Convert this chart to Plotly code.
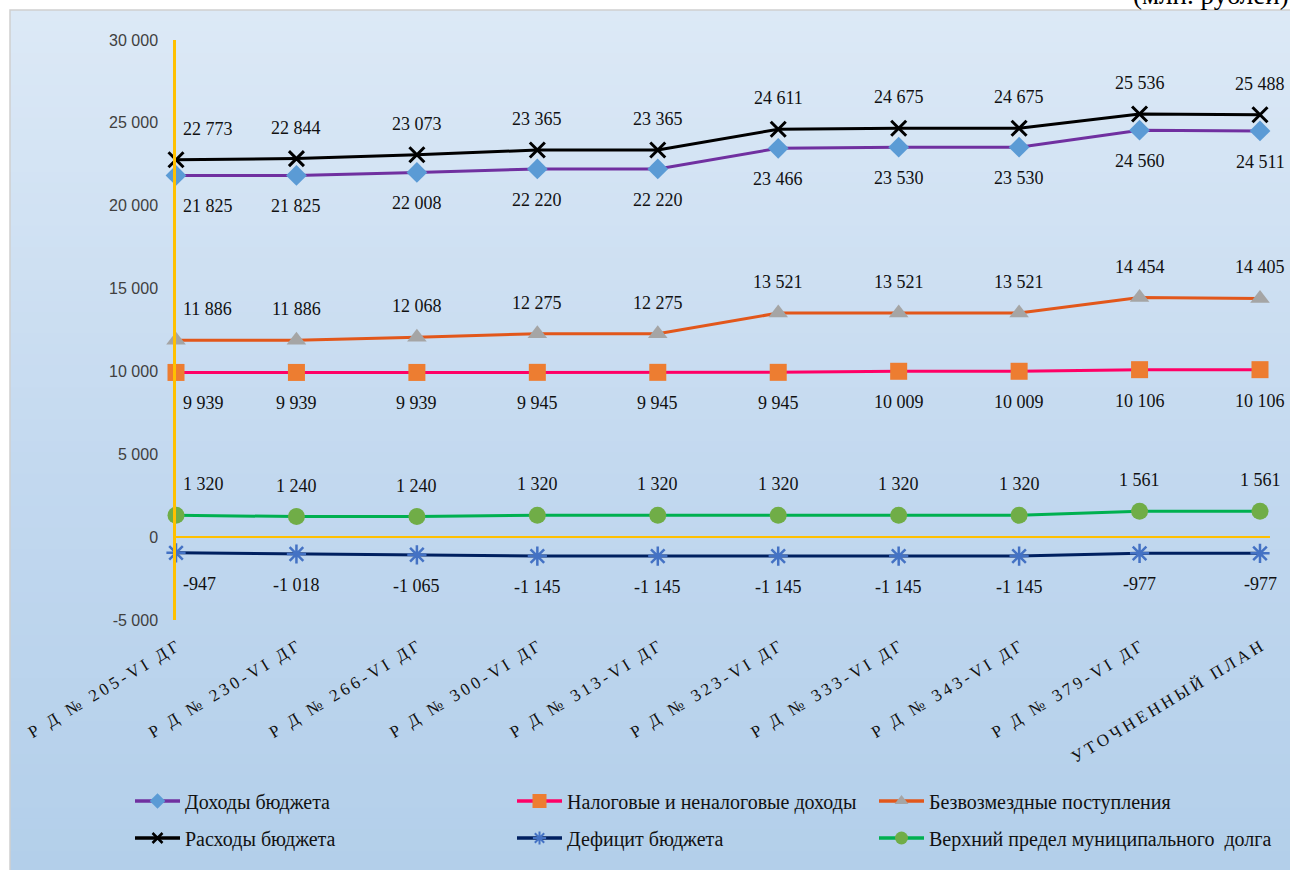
import plotly.graph_objects as go

categories = ["Р Д № 205-VI ДГ", "Р Д № 230-VI ДГ", "Р Д № 266-VI ДГ", "Р Д № 300-VI ДГ",
              "Р Д № 313-VI ДГ", "Р Д № 323-VI ДГ", "Р Д № 333-VI ДГ", "Р Д № 343-VI ДГ",
              "Р Д № 379-VI ДГ", "УТОЧНЕННЫЙ ПЛАН"]

dohody = [21825, 21825, 22008, 22220, 22220, 23466, 23530, 23530, 24560, 24511]
nalog = [9939, 9939, 9939, 9945, 9945, 9945, 10009, 10009, 10106, 10106]
bezvozm = [11886, 11886, 12068, 12275, 12275, 13521, 13521, 13521, 14454, 14405]
rashody = [22773, 22844, 23073, 23365, 23365, 24611, 24675, 24675, 25536, 25488]
deficit = [-947, -1018, -1065, -1145, -1145, -1145, -1145, -1145, -977, -977]
dolg = [1320, 1240, 1240, 1320, 1320, 1320, 1320, 1320, 1561, 1561]

y_ticks = [-5000, 0, 5000, 10000, 15000, 20000, 25000, 30000]
y_ticktext = ["-5 000", "0", "5 000", "10 000", "15 000", "20 000", "25 000", "30 000"]

W, H = 1290, 870
L, R, T, B = 176, 20, 40, 250
PW, PH = W - L - R, H - T - B


def fmt(v):
    s = f"{abs(v):,}".replace(",", " ")
    return ("-" if v < 0 else "") + s


def spaced(t):
    return "\u2009".join(list(t))


def px_x(p):
    return (p - L) / PW


def px_y(p):
    return (H - B - p) / PH


x = list(range(len(categories)))
ticktext = [spaced(c) for c in categories]

# name, values, line colour, marker (plot), marker (legend), label side, legend symbol centre (px)
series = [
    ("Доходы бюджета", dohody, "#7030a0",
     dict(symbol="diamond", size=16, color="#5b9bd5"),
     dict(symbol="diamond", size=12, color="#5b9bd5"), -1, (150, 801)),
    ("Налоговые и неналоговые доходы", nalog, "#ff0066",
     dict(symbol="square", size=17, color="#ed7d31"),
     dict(symbol="square", size=14, color="#ed7d31"), -1, (532, 801)),
    ("Безвозмездные поступления", bezvozm, "#e2571b",
     dict(symbol="triangle-up", size=17, color="#a5a5a5"),
     dict(symbol="triangle-up", size=12, color="#a5a5a5"), 1, (894, 801)),
    ("Расходы бюджета", rashody, "#000000",
     dict(symbol="x-thin", size=15, line=dict(color="#000000", width=3)),
     dict(symbol="x-thin", size=10, line=dict(color="#000000", width=2.5)), 1, (150, 838)),
    ("Дефицит бюджета", deficit, "#002060",
     dict(symbol="asterisk", size=16, line=dict(color="#4472c4", width=2.5)),
     dict(symbol="asterisk", size=11, line=dict(color="#4472c4", width=2)), -1, (532, 838)),
    ("Верхний предел муниципального  долга", dolg, "#00b050",
     dict(symbol="circle", size=17, color="#70ad47"),
     dict(symbol="circle", size=13, color="#70ad47"), 1, (894, 838)),
]

fig = go.Figure()
annotations = []
legends = {}
for k, (name, vals, lc, mk, lmk, side, lpos) in enumerate(series):
    fig.add_trace(go.Scatter(
        x=x, y=vals, name=name, mode="lines+markers", showlegend=False,
        line=dict(color=lc, width=3), marker=mk, cliponaxis=False,
    ))
    lname = "legend" if k == 0 else f"legend{k + 1}"
    fig.add_trace(go.Scatter(
        x=[None], y=[None], name=name, mode="lines+markers", showlegend=True,
        line=dict(color=lc, width=3.5), marker=lmk, legend=lname,
    ))
    legends[lname] = dict(x=px_x(lpos[0] - 20), y=px_y(lpos[1]), xanchor="left", yanchor="middle",
                          bgcolor="rgba(0,0,0,0)", borderwidth=0, itemwidth=45,
                          font=dict(family="Liberation Serif", size=20, color="#111111"))
    for i, v in enumerate(vals):
        a = dict(x=i, y=v, xref="x", yref="y", text=fmt(v), showarrow=False,
                 font=dict(family="Liberation Serif", size=18, color="#111111"),
                 yshift=31 * side, xanchor="center")
        if i == 0:
            a["xanchor"] = "left"
            a["xshift"] = 5
        annotations.append(a)


def lerp(c1, c2, t):
    return tuple(round(a + (b - a) * t) for a, b in zip(c1, c2))


shapes = []
top_c, mid_c, bot_c = (220, 233, 246), (194, 216, 239), (179, 207, 234)
n = 80
y0p, y1p = 10, 872
for k in range(n):
    t = k / (n - 1)
    c = lerp(top_c, mid_c, t / 0.55) if t < 0.55 else lerp(mid_c, bot_c, (t - 0.55) / 0.45)
    ya = y0p + (y1p - y0p) * k / n
    yb = y0p + (y1p - y0p) * (k + 1) / n + 1
    shapes.append(dict(type="rect", xref="paper", yref="paper", layer="below",
                       x0=px_x(10), x1=px_x(1292), y0=px_y(yb), y1=px_y(ya),
                       fillcolor="rgb(%d,%d,%d)" % c, line=dict(width=0)))
shapes.append(dict(type="rect", xref="paper", yref="paper", layer="below",
                   x0=px_x(10), x1=px_x(1300), y0=px_y(880), y1=px_y(10),
                   fillcolor="rgba(0,0,0,0)", line=dict(color="#d0d0d0", width=1.5)))

annotations.append(dict(xref="paper", yref="paper", x=px_x(1291), y=px_y(12),
                        xanchor="right", yanchor="bottom", showarrow=False,
                        text="(млн. рублей)",
                        font=dict(family="Liberation Serif", size=27, color="#000000")))

fig.update_layout(
    width=W, height=H,
    margin=dict(l=L, r=R, t=T, b=B, pad=0),
    paper_bgcolor="white", plot_bgcolor="rgba(0,0,0,0)",
    shapes=shapes, annotations=annotations,
    showlegend=True,
    xaxis=dict(range=[0, 9.083], tickvals=x, ticktext=ticktext, tickangle=-31,
               showgrid=False, zeroline=False, showline=False, ticks="",
               ticklabelstandoff=13,
               tickfont=dict(family="Liberation Serif", size=17, color="#111111")),
    yaxis=dict(range=[-5000, 30000], tickvals=y_ticks, ticktext=y_ticktext,
               showgrid=False, zeroline=True, zerolinecolor="#ffc000", zerolinewidth=2,
               showline=True, linecolor="#ffc000", linewidth=2.5, ticks="",
               ticklabelstandoff=12,
               tickfont=dict(family="Liberation Sans", size=16, color="#404040")),
)
fig.update_layout(**legends)

fig.write_html("out.html")
